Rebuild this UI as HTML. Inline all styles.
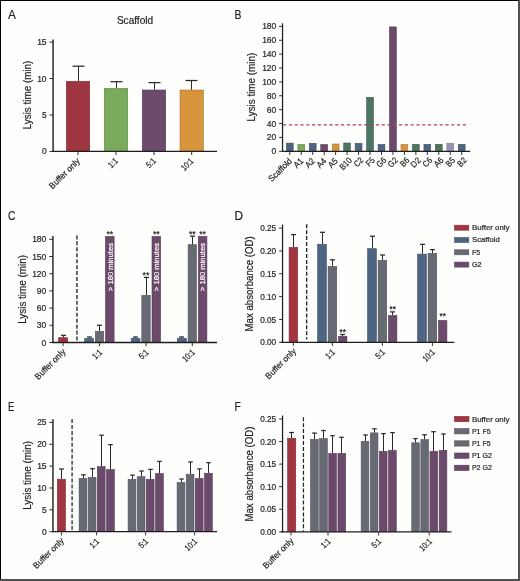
<!DOCTYPE html>
<html><head><meta charset="utf-8"><style>
html,body{margin:0;padding:0;background:#fff;}
#fig{position:relative;width:520px;height:581px;overflow:hidden;background:#fff;}
svg{position:absolute;left:0;top:0;font-family:"Liberation Sans", sans-serif;will-change:transform;}
</style></head><body>
<div id="fig">
<svg width="520" height="581" viewBox="0 0 520 581">
<rect x="0" y="0" width="520" height="581" fill="#fefefd"/>
<text x="8.00" y="18.60" font-size="12.8" text-anchor="start" fill="#1e1e1e" stroke="#1e1e1e" stroke-width="0.2" textLength="7.83" lengthAdjust="spacingAndGlyphs">A</text>
<text x="234.60" y="18.60" font-size="12.8" text-anchor="start" fill="#1e1e1e" stroke="#1e1e1e" stroke-width="0.2" textLength="6.94" lengthAdjust="spacingAndGlyphs">B</text>
<text x="8.00" y="220.00" font-size="12.8" text-anchor="start" fill="#1e1e1e" stroke="#1e1e1e" stroke-width="0.2" textLength="7.42" lengthAdjust="spacingAndGlyphs">C</text>
<text x="234.60" y="220.00" font-size="12.8" text-anchor="start" fill="#1e1e1e" stroke="#1e1e1e" stroke-width="0.2" textLength="8.52" lengthAdjust="spacingAndGlyphs">D</text>
<text x="8.00" y="411.20" font-size="12.8" text-anchor="start" fill="#1e1e1e" stroke="#1e1e1e" stroke-width="0.2" textLength="6.30" lengthAdjust="spacingAndGlyphs">E</text>
<text x="234.60" y="411.20" font-size="12.8" text-anchor="start" fill="#1e1e1e" stroke="#1e1e1e" stroke-width="0.2" textLength="6.23" lengthAdjust="spacingAndGlyphs">F</text>
<text x="135.00" y="23.80" font-size="10.6" text-anchor="middle" fill="#1e1e1e" stroke="#1e1e1e" stroke-width="0.2" textLength="36.20" lengthAdjust="spacingAndGlyphs">Scaffold</text>
<line x1="53.10" y1="39.50" x2="53.10" y2="152.05" stroke="#4a4a4a" stroke-width="1.75" />
<line x1="49.50" y1="151.45" x2="53.10" y2="151.45" stroke="#2e2e2e" stroke-width="1.0" />
<text x="46.60" y="154.49" font-size="9.2" text-anchor="end" fill="#1e1e1e" stroke="#1e1e1e" stroke-width="0.2" textLength="4.72" lengthAdjust="spacingAndGlyphs">0</text>
<line x1="49.50" y1="115.00" x2="53.10" y2="115.00" stroke="#2e2e2e" stroke-width="1.0" />
<text x="46.60" y="118.04" font-size="9.2" text-anchor="end" fill="#1e1e1e" stroke="#1e1e1e" stroke-width="0.2" textLength="4.72" lengthAdjust="spacingAndGlyphs">5</text>
<line x1="49.50" y1="78.55" x2="53.10" y2="78.55" stroke="#2e2e2e" stroke-width="1.0" />
<text x="46.60" y="81.59" font-size="9.2" text-anchor="end" fill="#1e1e1e" stroke="#1e1e1e" stroke-width="0.2" textLength="9.44" lengthAdjust="spacingAndGlyphs">10</text>
<line x1="49.50" y1="42.10" x2="53.10" y2="42.10" stroke="#2e2e2e" stroke-width="1.0" />
<text x="46.60" y="45.14" font-size="9.2" text-anchor="end" fill="#1e1e1e" stroke="#1e1e1e" stroke-width="0.2" textLength="9.44" lengthAdjust="spacingAndGlyphs">15</text>
<text x="31.00" y="95.00" font-size="10.6" text-anchor="middle" fill="#1e1e1e" stroke="#1e1e1e" stroke-width="0.2" transform="rotate(-90 31.00 95.00)" textLength="68.73" lengthAdjust="spacingAndGlyphs">Lysis time (min)</text>
<rect x="66.30" y="81.30" width="23.40" height="70.15" fill="#A03542" stroke="#802a34" stroke-width="0.6"/>
<line x1="78.50" y1="81.00" x2="78.50" y2="66.20" stroke="#2a2a2a" stroke-width="1.05" />
<line x1="72.50" y1="66.20" x2="84.50" y2="66.20" stroke="#2a2a2a" stroke-width="1.25" />
<line x1="78.00" y1="152.05" x2="78.00" y2="155.05" stroke="#2e2e2e" stroke-width="1.0" />
<text x="80.40" y="161.65" font-size="8.7" text-anchor="end" fill="#1e1e1e" stroke="#1e1e1e" stroke-width="0.2" transform="rotate(-45 80.40 161.65)" textLength="39.39" lengthAdjust="spacingAndGlyphs">Buffer only</text>
<rect x="104.30" y="88.30" width="23.40" height="63.15" fill="#7AAA5C" stroke="#618849" stroke-width="0.6"/>
<line x1="116.50" y1="88.00" x2="116.50" y2="81.70" stroke="#2a2a2a" stroke-width="1.05" />
<line x1="110.50" y1="81.70" x2="122.50" y2="81.70" stroke="#2a2a2a" stroke-width="1.25" />
<line x1="116.00" y1="152.05" x2="116.00" y2="155.05" stroke="#2e2e2e" stroke-width="1.0" />
<text x="118.40" y="161.65" font-size="8.7" text-anchor="end" fill="#1e1e1e" stroke="#1e1e1e" stroke-width="0.2" transform="rotate(-45 118.40 161.65)" textLength="9.65" lengthAdjust="spacingAndGlyphs">1:1</text>
<rect x="142.30" y="90.00" width="23.40" height="61.45" fill="#6C4A6C" stroke="#563b56" stroke-width="0.6"/>
<line x1="154.50" y1="89.70" x2="154.50" y2="82.60" stroke="#2a2a2a" stroke-width="1.05" />
<line x1="148.50" y1="82.60" x2="160.50" y2="82.60" stroke="#2a2a2a" stroke-width="1.25" />
<line x1="154.00" y1="152.05" x2="154.00" y2="155.05" stroke="#2e2e2e" stroke-width="1.0" />
<text x="156.40" y="161.65" font-size="8.7" text-anchor="end" fill="#1e1e1e" stroke="#1e1e1e" stroke-width="0.2" transform="rotate(-45 156.40 161.65)" textLength="9.65" lengthAdjust="spacingAndGlyphs">5:1</text>
<rect x="180.00" y="90.00" width="23.40" height="61.45" fill="#D6953D" stroke="#ab7730" stroke-width="0.6"/>
<line x1="191.50" y1="89.70" x2="191.50" y2="80.50" stroke="#2a2a2a" stroke-width="1.05" />
<line x1="185.50" y1="80.50" x2="197.50" y2="80.50" stroke="#2a2a2a" stroke-width="1.25" />
<line x1="191.70" y1="152.05" x2="191.70" y2="155.05" stroke="#2e2e2e" stroke-width="1.0" />
<text x="194.10" y="161.65" font-size="8.7" text-anchor="end" fill="#1e1e1e" stroke="#1e1e1e" stroke-width="0.2" transform="rotate(-45 194.10 161.65)" textLength="13.67" lengthAdjust="spacingAndGlyphs">10:1</text>
<line x1="282.55" y1="23.30" x2="282.55" y2="151.90" stroke="#1e1e1e" stroke-width="1.25" />
<line x1="279.15" y1="151.30" x2="282.55" y2="151.30" stroke="#2e2e2e" stroke-width="1.0" />
<text x="276.30" y="154.34" font-size="9.2" text-anchor="end" fill="#1e1e1e" stroke="#1e1e1e" stroke-width="0.2" textLength="4.72" lengthAdjust="spacingAndGlyphs">0</text>
<line x1="279.15" y1="137.42" x2="282.55" y2="137.42" stroke="#2e2e2e" stroke-width="1.0" />
<text x="276.30" y="140.46" font-size="9.2" text-anchor="end" fill="#1e1e1e" stroke="#1e1e1e" stroke-width="0.2" textLength="9.44" lengthAdjust="spacingAndGlyphs">20</text>
<line x1="279.15" y1="123.54" x2="282.55" y2="123.54" stroke="#2e2e2e" stroke-width="1.0" />
<text x="276.30" y="126.58" font-size="9.2" text-anchor="end" fill="#1e1e1e" stroke="#1e1e1e" stroke-width="0.2" textLength="9.44" lengthAdjust="spacingAndGlyphs">40</text>
<line x1="279.15" y1="109.66" x2="282.55" y2="109.66" stroke="#2e2e2e" stroke-width="1.0" />
<text x="276.30" y="112.70" font-size="9.2" text-anchor="end" fill="#1e1e1e" stroke="#1e1e1e" stroke-width="0.2" textLength="9.44" lengthAdjust="spacingAndGlyphs">60</text>
<line x1="279.15" y1="95.78" x2="282.55" y2="95.78" stroke="#2e2e2e" stroke-width="1.0" />
<text x="276.30" y="98.82" font-size="9.2" text-anchor="end" fill="#1e1e1e" stroke="#1e1e1e" stroke-width="0.2" textLength="9.44" lengthAdjust="spacingAndGlyphs">80</text>
<line x1="279.15" y1="81.90" x2="282.55" y2="81.90" stroke="#2e2e2e" stroke-width="1.0" />
<text x="276.30" y="84.94" font-size="9.2" text-anchor="end" fill="#1e1e1e" stroke="#1e1e1e" stroke-width="0.2" textLength="14.16" lengthAdjust="spacingAndGlyphs">100</text>
<line x1="279.15" y1="68.02" x2="282.55" y2="68.02" stroke="#2e2e2e" stroke-width="1.0" />
<text x="276.30" y="71.06" font-size="9.2" text-anchor="end" fill="#1e1e1e" stroke="#1e1e1e" stroke-width="0.2" textLength="14.16" lengthAdjust="spacingAndGlyphs">120</text>
<line x1="279.15" y1="54.14" x2="282.55" y2="54.14" stroke="#2e2e2e" stroke-width="1.0" />
<text x="276.30" y="57.18" font-size="9.2" text-anchor="end" fill="#1e1e1e" stroke="#1e1e1e" stroke-width="0.2" textLength="14.16" lengthAdjust="spacingAndGlyphs">140</text>
<line x1="279.15" y1="40.26" x2="282.55" y2="40.26" stroke="#2e2e2e" stroke-width="1.0" />
<text x="276.30" y="43.30" font-size="9.2" text-anchor="end" fill="#1e1e1e" stroke="#1e1e1e" stroke-width="0.2" textLength="14.16" lengthAdjust="spacingAndGlyphs">160</text>
<line x1="279.15" y1="26.38" x2="282.55" y2="26.38" stroke="#2e2e2e" stroke-width="1.0" />
<text x="276.30" y="29.42" font-size="9.2" text-anchor="end" fill="#1e1e1e" stroke="#1e1e1e" stroke-width="0.2" textLength="14.16" lengthAdjust="spacingAndGlyphs">180</text>
<text x="255.20" y="87.05" font-size="10.6" text-anchor="middle" fill="#1e1e1e" stroke="#1e1e1e" stroke-width="0.2" transform="rotate(-90 255.20 87.05)" textLength="68.73" lengthAdjust="spacingAndGlyphs">Lysis time (min)</text>
<rect x="286.40" y="143.10" width="6.80" height="8.20" fill="#4D6482" stroke="#3d5068" stroke-width="0.6"/>
<line x1="289.80" y1="151.90" x2="289.80" y2="154.90" stroke="#2e2e2e" stroke-width="1.0" />
<text x="292.50" y="161.70" font-size="8.7" text-anchor="end" fill="#1e1e1e" stroke="#1e1e1e" stroke-width="0.2" transform="rotate(-45 292.50 161.70)" textLength="29.20" lengthAdjust="spacingAndGlyphs">Scaffold</text>
<rect x="297.86" y="144.50" width="6.80" height="6.80" fill="#7AAA5C" stroke="#618849" stroke-width="0.6"/>
<line x1="301.26" y1="151.90" x2="301.26" y2="154.90" stroke="#2e2e2e" stroke-width="1.0" />
<text x="303.96" y="161.70" font-size="8.7" text-anchor="end" fill="#1e1e1e" stroke="#1e1e1e" stroke-width="0.2" transform="rotate(-45 303.96 161.70)" textLength="9.79" lengthAdjust="spacingAndGlyphs">A1</text>
<rect x="309.32" y="143.30" width="6.80" height="8.00" fill="#4D6482" stroke="#3d5068" stroke-width="0.6"/>
<line x1="312.72" y1="151.90" x2="312.72" y2="154.90" stroke="#2e2e2e" stroke-width="1.0" />
<text x="315.42" y="161.70" font-size="8.7" text-anchor="end" fill="#1e1e1e" stroke="#1e1e1e" stroke-width="0.2" transform="rotate(-45 315.42 161.70)" textLength="9.79" lengthAdjust="spacingAndGlyphs">A2</text>
<rect x="320.78" y="144.50" width="6.80" height="6.80" fill="#6C4A6C" stroke="#563b56" stroke-width="0.6"/>
<line x1="324.18" y1="151.90" x2="324.18" y2="154.90" stroke="#2e2e2e" stroke-width="1.0" />
<text x="326.88" y="161.70" font-size="8.7" text-anchor="end" fill="#1e1e1e" stroke="#1e1e1e" stroke-width="0.2" transform="rotate(-45 326.88 161.70)" textLength="9.79" lengthAdjust="spacingAndGlyphs">A4</text>
<rect x="332.24" y="144.00" width="6.80" height="7.30" fill="#D6953D" stroke="#ab7730" stroke-width="0.6"/>
<line x1="335.64" y1="151.90" x2="335.64" y2="154.90" stroke="#2e2e2e" stroke-width="1.0" />
<text x="338.34" y="161.70" font-size="8.7" text-anchor="end" fill="#1e1e1e" stroke="#1e1e1e" stroke-width="0.2" transform="rotate(-45 338.34 161.70)" textLength="9.79" lengthAdjust="spacingAndGlyphs">A5</text>
<rect x="343.70" y="143.00" width="6.80" height="8.30" fill="#4D7562" stroke="#3d5d4e" stroke-width="0.6"/>
<line x1="347.10" y1="151.90" x2="347.10" y2="154.90" stroke="#2e2e2e" stroke-width="1.0" />
<text x="352.60" y="160.90" font-size="8.7" text-anchor="end" fill="#1e1e1e" stroke="#1e1e1e" stroke-width="0.2" transform="rotate(-45 352.60 160.90)" textLength="13.64" lengthAdjust="spacingAndGlyphs">B10</text>
<rect x="355.16" y="143.30" width="6.80" height="8.00" fill="#4D6482" stroke="#3d5068" stroke-width="0.6"/>
<line x1="358.56" y1="151.90" x2="358.56" y2="154.90" stroke="#2e2e2e" stroke-width="1.0" />
<text x="364.06" y="160.90" font-size="8.7" text-anchor="end" fill="#1e1e1e" stroke="#1e1e1e" stroke-width="0.2" transform="rotate(-45 364.06 160.90)" textLength="9.51" lengthAdjust="spacingAndGlyphs">C2</text>
<rect x="366.62" y="97.40" width="6.80" height="53.90" fill="#4D7562" stroke="#3d5d4e" stroke-width="0.6"/>
<line x1="370.02" y1="151.90" x2="370.02" y2="154.90" stroke="#2e2e2e" stroke-width="1.0" />
<text x="375.52" y="160.90" font-size="8.7" text-anchor="end" fill="#1e1e1e" stroke="#1e1e1e" stroke-width="0.2" transform="rotate(-45 375.52 160.90)" textLength="8.70" lengthAdjust="spacingAndGlyphs">F5</text>
<rect x="378.08" y="144.50" width="6.80" height="6.80" fill="#4D6482" stroke="#3d5068" stroke-width="0.6"/>
<line x1="381.48" y1="151.90" x2="381.48" y2="154.90" stroke="#2e2e2e" stroke-width="1.0" />
<text x="386.98" y="160.90" font-size="8.7" text-anchor="end" fill="#1e1e1e" stroke="#1e1e1e" stroke-width="0.2" transform="rotate(-45 386.98 160.90)" textLength="10.08" lengthAdjust="spacingAndGlyphs">G6</text>
<rect x="389.54" y="26.90" width="6.80" height="124.40" fill="#6C4A6C" stroke="#563b56" stroke-width="0.6"/>
<line x1="392.94" y1="151.90" x2="392.94" y2="154.90" stroke="#2e2e2e" stroke-width="1.0" />
<text x="398.44" y="160.90" font-size="8.7" text-anchor="end" fill="#1e1e1e" stroke="#1e1e1e" stroke-width="0.2" transform="rotate(-45 398.44 160.90)" textLength="10.08" lengthAdjust="spacingAndGlyphs">G2</text>
<rect x="401.00" y="144.50" width="6.80" height="6.80" fill="#D6953D" stroke="#ab7730" stroke-width="0.6"/>
<line x1="404.40" y1="151.90" x2="404.40" y2="154.90" stroke="#2e2e2e" stroke-width="1.0" />
<text x="409.90" y="160.90" font-size="8.7" text-anchor="end" fill="#1e1e1e" stroke="#1e1e1e" stroke-width="0.2" transform="rotate(-45 409.90 160.90)" textLength="9.18" lengthAdjust="spacingAndGlyphs">B6</text>
<rect x="412.46" y="144.30" width="6.80" height="7.00" fill="#4D7562" stroke="#3d5d4e" stroke-width="0.6"/>
<line x1="415.86" y1="151.90" x2="415.86" y2="154.90" stroke="#2e2e2e" stroke-width="1.0" />
<text x="421.36" y="160.90" font-size="8.7" text-anchor="end" fill="#1e1e1e" stroke="#1e1e1e" stroke-width="0.2" transform="rotate(-45 421.36 160.90)" textLength="10.26" lengthAdjust="spacingAndGlyphs">D2</text>
<rect x="423.92" y="144.30" width="6.80" height="7.00" fill="#4D6482" stroke="#3d5068" stroke-width="0.6"/>
<line x1="427.32" y1="151.90" x2="427.32" y2="154.90" stroke="#2e2e2e" stroke-width="1.0" />
<text x="432.82" y="160.90" font-size="8.7" text-anchor="end" fill="#1e1e1e" stroke="#1e1e1e" stroke-width="0.2" transform="rotate(-45 432.82 160.90)" textLength="9.51" lengthAdjust="spacingAndGlyphs">C6</text>
<rect x="435.38" y="144.30" width="6.80" height="7.00" fill="#4D7562" stroke="#3d5d4e" stroke-width="0.6"/>
<line x1="438.78" y1="151.90" x2="438.78" y2="154.90" stroke="#2e2e2e" stroke-width="1.0" />
<text x="444.28" y="160.90" font-size="8.7" text-anchor="end" fill="#1e1e1e" stroke="#1e1e1e" stroke-width="0.2" transform="rotate(-45 444.28 160.90)" textLength="9.79" lengthAdjust="spacingAndGlyphs">A6</text>
<rect x="446.84" y="143.20" width="6.80" height="8.10" fill="#9B93B6" stroke="#7c7591" stroke-width="0.6"/>
<line x1="450.24" y1="151.90" x2="450.24" y2="154.90" stroke="#2e2e2e" stroke-width="1.0" />
<text x="455.74" y="160.90" font-size="8.7" text-anchor="end" fill="#1e1e1e" stroke="#1e1e1e" stroke-width="0.2" transform="rotate(-45 455.74 160.90)" textLength="9.18" lengthAdjust="spacingAndGlyphs">B5</text>
<rect x="458.30" y="144.30" width="6.80" height="7.00" fill="#4D6482" stroke="#3d5068" stroke-width="0.6"/>
<line x1="461.70" y1="151.90" x2="461.70" y2="154.90" stroke="#2e2e2e" stroke-width="1.0" />
<text x="467.20" y="160.90" font-size="8.7" text-anchor="end" fill="#1e1e1e" stroke="#1e1e1e" stroke-width="0.2" transform="rotate(-45 467.20 160.90)" textLength="9.18" lengthAdjust="spacingAndGlyphs">B2</text>
<line x1="283.00" y1="124.90" x2="468.40" y2="124.90" stroke="#B23F55" stroke-width="1.4" stroke-dasharray="3.2 2.6"/>
<line x1="52.90" y1="236.00" x2="52.90" y2="343.10" stroke="#4a4a4a" stroke-width="1.75" />
<line x1="49.30" y1="342.50" x2="52.90" y2="342.50" stroke="#2e2e2e" stroke-width="1.0" />
<text x="46.30" y="345.54" font-size="9.2" text-anchor="end" fill="#1e1e1e" stroke="#1e1e1e" stroke-width="0.2" textLength="4.72" lengthAdjust="spacingAndGlyphs">0</text>
<line x1="49.30" y1="325.30" x2="52.90" y2="325.30" stroke="#2e2e2e" stroke-width="1.0" />
<text x="46.30" y="328.34" font-size="9.2" text-anchor="end" fill="#1e1e1e" stroke="#1e1e1e" stroke-width="0.2" textLength="9.44" lengthAdjust="spacingAndGlyphs">30</text>
<line x1="49.30" y1="308.10" x2="52.90" y2="308.10" stroke="#2e2e2e" stroke-width="1.0" />
<text x="46.30" y="311.14" font-size="9.2" text-anchor="end" fill="#1e1e1e" stroke="#1e1e1e" stroke-width="0.2" textLength="9.44" lengthAdjust="spacingAndGlyphs">60</text>
<line x1="49.30" y1="290.90" x2="52.90" y2="290.90" stroke="#2e2e2e" stroke-width="1.0" />
<text x="46.30" y="293.94" font-size="9.2" text-anchor="end" fill="#1e1e1e" stroke="#1e1e1e" stroke-width="0.2" textLength="9.44" lengthAdjust="spacingAndGlyphs">90</text>
<line x1="49.30" y1="273.70" x2="52.90" y2="273.70" stroke="#2e2e2e" stroke-width="1.0" />
<text x="46.30" y="276.74" font-size="9.2" text-anchor="end" fill="#1e1e1e" stroke="#1e1e1e" stroke-width="0.2" textLength="14.16" lengthAdjust="spacingAndGlyphs">120</text>
<line x1="49.30" y1="256.50" x2="52.90" y2="256.50" stroke="#2e2e2e" stroke-width="1.0" />
<text x="46.30" y="259.54" font-size="9.2" text-anchor="end" fill="#1e1e1e" stroke="#1e1e1e" stroke-width="0.2" textLength="14.16" lengthAdjust="spacingAndGlyphs">150</text>
<line x1="49.30" y1="239.30" x2="52.90" y2="239.30" stroke="#2e2e2e" stroke-width="1.0" />
<text x="46.30" y="242.34" font-size="9.2" text-anchor="end" fill="#1e1e1e" stroke="#1e1e1e" stroke-width="0.2" textLength="14.16" lengthAdjust="spacingAndGlyphs">180</text>
<text x="26.00" y="289.40" font-size="10.6" text-anchor="middle" fill="#1e1e1e" stroke="#1e1e1e" stroke-width="0.2" transform="rotate(-90 26.00 289.40)" textLength="68.73" lengthAdjust="spacingAndGlyphs">Lysis time (min)</text>
<line x1="76.95" y1="235.40" x2="76.95" y2="342.50" stroke="#505050" stroke-width="1.7" stroke-dasharray="4 1.95"/>
<rect x="58.60" y="337.70" width="9.00" height="4.80" fill="#A03542" stroke="#802a34" stroke-width="0.6"/>
<line x1="63.50" y1="337.40" x2="63.50" y2="335.30" stroke="#2a2a2a" stroke-width="1.05" />
<line x1="61.00" y1="335.30" x2="66.00" y2="335.30" stroke="#2a2a2a" stroke-width="1.25" />
<line x1="63.10" y1="343.10" x2="63.10" y2="346.10" stroke="#2e2e2e" stroke-width="1.0" />
<text x="66.10" y="352.40" font-size="8.7" text-anchor="end" fill="#1e1e1e" stroke="#1e1e1e" stroke-width="0.2" transform="rotate(-45 66.10 352.40)" textLength="39.39" lengthAdjust="spacingAndGlyphs">Buffer only</text>
<rect x="84.70" y="338.30" width="8.80" height="4.20" fill="#4D6482" stroke="#3d5068" stroke-width="0.6"/>
<line x1="89.50" y1="338.00" x2="89.50" y2="337.00" stroke="#2a2a2a" stroke-width="1.05" />
<line x1="87.00" y1="337.00" x2="92.00" y2="337.00" stroke="#2a2a2a" stroke-width="1.25" />
<rect x="95.30" y="331.30" width="8.40" height="11.20" fill="#676A73" stroke="#52545c" stroke-width="0.6"/>
<line x1="99.50" y1="331.00" x2="99.50" y2="325.30" stroke="#2a2a2a" stroke-width="1.05" />
<line x1="97.00" y1="325.30" x2="102.00" y2="325.30" stroke="#2a2a2a" stroke-width="1.25" />
<rect x="105.50" y="236.40" width="8.60" height="106.10" fill="#6C4A6C" stroke="#563b56" stroke-width="0.6"/>
<line x1="99.50" y1="343.10" x2="99.50" y2="346.10" stroke="#2e2e2e" stroke-width="1.0" />
<text x="102.70" y="352.90" font-size="8.7" text-anchor="end" fill="#1e1e1e" stroke="#1e1e1e" stroke-width="0.2" transform="rotate(-45 102.70 352.90)" textLength="9.65" lengthAdjust="spacingAndGlyphs">1:1</text>
<text x="112.70" y="291.20" font-size="8.1" text-anchor="start" fill="#ffffff" stroke="#ffffff" stroke-width="0.2" transform="rotate(-90 112.70 291.20)" textLength="48.28" lengthAdjust="spacingAndGlyphs">&gt; 180 minutes</text>
<text x="109.80" y="236.80" font-size="9.6" text-anchor="middle" fill="#1e1e1e" stroke="#1e1e1e" stroke-width="0.2" textLength="6.80" lengthAdjust="spacingAndGlyphs">**</text>
<rect x="131.20" y="338.30" width="8.80" height="4.20" fill="#4D6482" stroke="#3d5068" stroke-width="0.6"/>
<line x1="135.50" y1="338.00" x2="135.50" y2="337.00" stroke="#2a2a2a" stroke-width="1.05" />
<line x1="133.00" y1="337.00" x2="138.00" y2="337.00" stroke="#2a2a2a" stroke-width="1.25" />
<rect x="141.80" y="295.30" width="8.40" height="47.20" fill="#676A73" stroke="#52545c" stroke-width="0.6"/>
<line x1="146.50" y1="295.00" x2="146.50" y2="277.40" stroke="#2a2a2a" stroke-width="1.05" />
<line x1="144.00" y1="277.40" x2="149.00" y2="277.40" stroke="#2a2a2a" stroke-width="1.25" />
<rect x="152.00" y="236.40" width="8.60" height="106.10" fill="#6C4A6C" stroke="#563b56" stroke-width="0.6"/>
<line x1="146.00" y1="343.10" x2="146.00" y2="346.10" stroke="#2e2e2e" stroke-width="1.0" />
<text x="149.20" y="352.90" font-size="8.7" text-anchor="end" fill="#1e1e1e" stroke="#1e1e1e" stroke-width="0.2" transform="rotate(-45 149.20 352.90)" textLength="9.65" lengthAdjust="spacingAndGlyphs">5:1</text>
<text x="159.20" y="291.20" font-size="8.1" text-anchor="start" fill="#ffffff" stroke="#ffffff" stroke-width="0.2" transform="rotate(-90 159.20 291.20)" textLength="48.28" lengthAdjust="spacingAndGlyphs">&gt; 180 minutes</text>
<text x="146.00" y="277.90" font-size="9.6" text-anchor="middle" fill="#1e1e1e" stroke="#1e1e1e" stroke-width="0.2" textLength="6.80" lengthAdjust="spacingAndGlyphs">**</text>
<text x="156.30" y="236.80" font-size="9.6" text-anchor="middle" fill="#1e1e1e" stroke="#1e1e1e" stroke-width="0.2" textLength="6.80" lengthAdjust="spacingAndGlyphs">**</text>
<rect x="177.50" y="338.30" width="8.80" height="4.20" fill="#4D6482" stroke="#3d5068" stroke-width="0.6"/>
<line x1="181.50" y1="338.00" x2="181.50" y2="337.00" stroke="#2a2a2a" stroke-width="1.05" />
<line x1="179.00" y1="337.00" x2="184.00" y2="337.00" stroke="#2a2a2a" stroke-width="1.25" />
<rect x="188.10" y="244.70" width="8.40" height="97.80" fill="#676A73" stroke="#52545c" stroke-width="0.6"/>
<line x1="192.50" y1="244.40" x2="192.50" y2="236.20" stroke="#2a2a2a" stroke-width="1.05" />
<line x1="190.00" y1="236.20" x2="195.00" y2="236.20" stroke="#2a2a2a" stroke-width="1.25" />
<rect x="198.30" y="236.40" width="8.60" height="106.10" fill="#6C4A6C" stroke="#563b56" stroke-width="0.6"/>
<line x1="192.30" y1="343.10" x2="192.30" y2="346.10" stroke="#2e2e2e" stroke-width="1.0" />
<text x="195.50" y="352.90" font-size="8.7" text-anchor="end" fill="#1e1e1e" stroke="#1e1e1e" stroke-width="0.2" transform="rotate(-45 195.50 352.90)" textLength="13.67" lengthAdjust="spacingAndGlyphs">10:1</text>
<text x="205.50" y="291.20" font-size="8.1" text-anchor="start" fill="#ffffff" stroke="#ffffff" stroke-width="0.2" transform="rotate(-90 205.50 291.20)" textLength="48.28" lengthAdjust="spacingAndGlyphs">&gt; 180 minutes</text>
<text x="192.30" y="236.70" font-size="9.6" text-anchor="middle" fill="#1e1e1e" stroke="#1e1e1e" stroke-width="0.2" textLength="6.80" lengthAdjust="spacingAndGlyphs">**</text>
<text x="202.60" y="236.80" font-size="9.6" text-anchor="middle" fill="#1e1e1e" stroke="#1e1e1e" stroke-width="0.2" textLength="6.80" lengthAdjust="spacingAndGlyphs">**</text>
<line x1="282.55" y1="224.60" x2="282.55" y2="342.90" stroke="#1e1e1e" stroke-width="1.25" />
<line x1="279.15" y1="342.30" x2="282.55" y2="342.30" stroke="#2e2e2e" stroke-width="1.0" />
<text x="276.20" y="345.34" font-size="9.2" text-anchor="end" fill="#1e1e1e" stroke="#1e1e1e" stroke-width="0.2" textLength="16.06" lengthAdjust="spacingAndGlyphs">0.00</text>
<line x1="279.15" y1="319.46" x2="282.55" y2="319.46" stroke="#2e2e2e" stroke-width="1.0" />
<text x="276.20" y="322.50" font-size="9.2" text-anchor="end" fill="#1e1e1e" stroke="#1e1e1e" stroke-width="0.2" textLength="16.06" lengthAdjust="spacingAndGlyphs">0.05</text>
<line x1="279.15" y1="296.62" x2="282.55" y2="296.62" stroke="#2e2e2e" stroke-width="1.0" />
<text x="276.20" y="299.66" font-size="9.2" text-anchor="end" fill="#1e1e1e" stroke="#1e1e1e" stroke-width="0.2" textLength="16.06" lengthAdjust="spacingAndGlyphs">0.10</text>
<line x1="279.15" y1="273.78" x2="282.55" y2="273.78" stroke="#2e2e2e" stroke-width="1.0" />
<text x="276.20" y="276.82" font-size="9.2" text-anchor="end" fill="#1e1e1e" stroke="#1e1e1e" stroke-width="0.2" textLength="16.06" lengthAdjust="spacingAndGlyphs">0.15</text>
<line x1="279.15" y1="250.94" x2="282.55" y2="250.94" stroke="#2e2e2e" stroke-width="1.0" />
<text x="276.20" y="253.98" font-size="9.2" text-anchor="end" fill="#1e1e1e" stroke="#1e1e1e" stroke-width="0.2" textLength="16.06" lengthAdjust="spacingAndGlyphs">0.20</text>
<line x1="279.15" y1="228.10" x2="282.55" y2="228.10" stroke="#2e2e2e" stroke-width="1.0" />
<text x="276.20" y="231.14" font-size="9.2" text-anchor="end" fill="#1e1e1e" stroke="#1e1e1e" stroke-width="0.2" textLength="16.06" lengthAdjust="spacingAndGlyphs">0.25</text>
<text x="253.00" y="283.90" font-size="10.6" text-anchor="middle" fill="#1e1e1e" stroke="#1e1e1e" stroke-width="0.2" transform="rotate(-90 253.00 283.90)" textLength="95.12" lengthAdjust="spacingAndGlyphs">Max absorbance (OD)</text>
<line x1="306.65" y1="224.20" x2="306.65" y2="339.50" stroke="#2a2a2a" stroke-width="1.4" stroke-dasharray="4 1.95"/>
<rect x="289.10" y="247.40" width="8.60" height="94.90" fill="#A03542" stroke="#802a34" stroke-width="0.6"/>
<line x1="293.50" y1="247.10" x2="293.50" y2="234.60" stroke="#2a2a2a" stroke-width="1.05" />
<line x1="291.00" y1="234.60" x2="296.00" y2="234.60" stroke="#2a2a2a" stroke-width="1.25" />
<line x1="293.40" y1="342.90" x2="293.40" y2="345.90" stroke="#2e2e2e" stroke-width="1.0" />
<text x="296.60" y="351.80" font-size="8.7" text-anchor="end" fill="#1e1e1e" stroke="#1e1e1e" stroke-width="0.2" transform="rotate(-45 296.60 351.80)" textLength="39.39" lengthAdjust="spacingAndGlyphs">Buffer only</text>
<rect x="317.60" y="244.20" width="8.80" height="98.10" fill="#4D6482" stroke="#3d5068" stroke-width="0.6"/>
<line x1="322.50" y1="243.90" x2="322.50" y2="232.30" stroke="#2a2a2a" stroke-width="1.05" />
<line x1="320.00" y1="232.30" x2="325.00" y2="232.30" stroke="#2a2a2a" stroke-width="1.25" />
<rect x="328.10" y="266.40" width="8.60" height="75.90" fill="#676A73" stroke="#52545c" stroke-width="0.6"/>
<line x1="332.50" y1="266.10" x2="332.50" y2="259.80" stroke="#2a2a2a" stroke-width="1.05" />
<line x1="330.00" y1="259.80" x2="335.00" y2="259.80" stroke="#2a2a2a" stroke-width="1.25" />
<rect x="338.50" y="336.30" width="8.40" height="6.00" fill="#6C4A6C" stroke="#563b56" stroke-width="0.6"/>
<line x1="342.50" y1="336.00" x2="342.50" y2="334.50" stroke="#2a2a2a" stroke-width="1.05" />
<line x1="340.00" y1="334.50" x2="345.00" y2="334.50" stroke="#2a2a2a" stroke-width="1.25" />
<line x1="332.40" y1="342.90" x2="332.40" y2="345.90" stroke="#2e2e2e" stroke-width="1.0" />
<text x="335.60" y="352.70" font-size="8.7" text-anchor="end" fill="#1e1e1e" stroke="#1e1e1e" stroke-width="0.2" transform="rotate(-45 335.60 352.70)" textLength="9.65" lengthAdjust="spacingAndGlyphs">1:1</text>
<text x="342.70" y="334.50" font-size="9.4" text-anchor="middle" fill="#1e1e1e" stroke="#1e1e1e" stroke-width="0.2" textLength="6.50" lengthAdjust="spacingAndGlyphs">**</text>
<rect x="367.60" y="248.70" width="8.80" height="93.60" fill="#4D6482" stroke="#3d5068" stroke-width="0.6"/>
<line x1="372.50" y1="248.40" x2="372.50" y2="236.20" stroke="#2a2a2a" stroke-width="1.05" />
<line x1="370.00" y1="236.20" x2="375.00" y2="236.20" stroke="#2a2a2a" stroke-width="1.25" />
<rect x="378.10" y="260.30" width="8.60" height="82.00" fill="#676A73" stroke="#52545c" stroke-width="0.6"/>
<line x1="382.50" y1="260.00" x2="382.50" y2="255.00" stroke="#2a2a2a" stroke-width="1.05" />
<line x1="380.00" y1="255.00" x2="385.00" y2="255.00" stroke="#2a2a2a" stroke-width="1.25" />
<rect x="388.50" y="315.60" width="8.40" height="26.70" fill="#6C4A6C" stroke="#563b56" stroke-width="0.6"/>
<line x1="392.50" y1="315.30" x2="392.50" y2="311.90" stroke="#2a2a2a" stroke-width="1.05" />
<line x1="390.00" y1="311.90" x2="395.00" y2="311.90" stroke="#2a2a2a" stroke-width="1.25" />
<line x1="382.40" y1="342.90" x2="382.40" y2="345.90" stroke="#2e2e2e" stroke-width="1.0" />
<text x="385.60" y="352.70" font-size="8.7" text-anchor="end" fill="#1e1e1e" stroke="#1e1e1e" stroke-width="0.2" transform="rotate(-45 385.60 352.70)" textLength="9.65" lengthAdjust="spacingAndGlyphs">5:1</text>
<text x="392.70" y="311.90" font-size="9.4" text-anchor="middle" fill="#1e1e1e" stroke="#1e1e1e" stroke-width="0.2" textLength="6.50" lengthAdjust="spacingAndGlyphs">**</text>
<rect x="417.60" y="254.10" width="8.80" height="88.20" fill="#4D6482" stroke="#3d5068" stroke-width="0.6"/>
<line x1="422.50" y1="253.80" x2="422.50" y2="244.30" stroke="#2a2a2a" stroke-width="1.05" />
<line x1="420.00" y1="244.30" x2="425.00" y2="244.30" stroke="#2a2a2a" stroke-width="1.25" />
<rect x="428.10" y="253.30" width="8.60" height="89.00" fill="#676A73" stroke="#52545c" stroke-width="0.6"/>
<line x1="432.50" y1="253.00" x2="432.50" y2="249.60" stroke="#2a2a2a" stroke-width="1.05" />
<line x1="430.00" y1="249.60" x2="435.00" y2="249.60" stroke="#2a2a2a" stroke-width="1.25" />
<rect x="438.50" y="320.50" width="8.40" height="21.80" fill="#6C4A6C" stroke="#563b56" stroke-width="0.6"/>
<line x1="432.40" y1="342.90" x2="432.40" y2="345.90" stroke="#2e2e2e" stroke-width="1.0" />
<text x="435.60" y="352.70" font-size="8.7" text-anchor="end" fill="#1e1e1e" stroke="#1e1e1e" stroke-width="0.2" transform="rotate(-45 435.60 352.70)" textLength="13.67" lengthAdjust="spacingAndGlyphs">10:1</text>
<text x="442.70" y="319.40" font-size="9.4" text-anchor="middle" fill="#1e1e1e" stroke="#1e1e1e" stroke-width="0.2" textLength="6.50" lengthAdjust="spacingAndGlyphs">**</text>
<rect x="454.60" y="225.20" width="14.20" height="5.00" fill="#A03542" stroke="#802a34" stroke-width="0.6"/>
<text x="472.00" y="230.10" font-size="8.0" text-anchor="start" fill="#1e1e1e" stroke="#1e1e1e" stroke-width="0.2" textLength="37.58" lengthAdjust="spacingAndGlyphs">Buffer only</text>
<rect x="454.60" y="237.50" width="14.20" height="5.00" fill="#4D6482" stroke="#3d5068" stroke-width="0.6"/>
<text x="472.00" y="242.40" font-size="8.0" text-anchor="start" fill="#1e1e1e" stroke="#1e1e1e" stroke-width="0.2" textLength="27.85" lengthAdjust="spacingAndGlyphs">Scaffold</text>
<rect x="454.60" y="249.80" width="14.20" height="5.00" fill="#676A73" stroke="#52545c" stroke-width="0.6"/>
<text x="472.00" y="254.70" font-size="8.0" text-anchor="start" fill="#1e1e1e" stroke="#1e1e1e" stroke-width="0.2" textLength="8.30" lengthAdjust="spacingAndGlyphs">F5</text>
<rect x="454.60" y="262.10" width="14.20" height="5.00" fill="#6C4A6C" stroke="#563b56" stroke-width="0.6"/>
<text x="472.00" y="267.00" font-size="8.0" text-anchor="start" fill="#1e1e1e" stroke="#1e1e1e" stroke-width="0.2" textLength="9.62" lengthAdjust="spacingAndGlyphs">G2</text>
<line x1="52.95" y1="419.20" x2="52.95" y2="532.30" stroke="#4a4a4a" stroke-width="1.75" />
<line x1="49.35" y1="531.70" x2="52.95" y2="531.70" stroke="#2e2e2e" stroke-width="1.0" />
<text x="46.60" y="534.74" font-size="9.2" text-anchor="end" fill="#1e1e1e" stroke="#1e1e1e" stroke-width="0.2" textLength="4.72" lengthAdjust="spacingAndGlyphs">0</text>
<line x1="49.35" y1="509.84" x2="52.95" y2="509.84" stroke="#2e2e2e" stroke-width="1.0" />
<text x="46.60" y="512.88" font-size="9.2" text-anchor="end" fill="#1e1e1e" stroke="#1e1e1e" stroke-width="0.2" textLength="4.72" lengthAdjust="spacingAndGlyphs">5</text>
<line x1="49.35" y1="487.98" x2="52.95" y2="487.98" stroke="#2e2e2e" stroke-width="1.0" />
<text x="46.60" y="491.02" font-size="9.2" text-anchor="end" fill="#1e1e1e" stroke="#1e1e1e" stroke-width="0.2" textLength="9.44" lengthAdjust="spacingAndGlyphs">10</text>
<line x1="49.35" y1="466.12" x2="52.95" y2="466.12" stroke="#2e2e2e" stroke-width="1.0" />
<text x="46.60" y="469.16" font-size="9.2" text-anchor="end" fill="#1e1e1e" stroke="#1e1e1e" stroke-width="0.2" textLength="9.44" lengthAdjust="spacingAndGlyphs">15</text>
<line x1="49.35" y1="444.26" x2="52.95" y2="444.26" stroke="#2e2e2e" stroke-width="1.0" />
<text x="46.60" y="447.30" font-size="9.2" text-anchor="end" fill="#1e1e1e" stroke="#1e1e1e" stroke-width="0.2" textLength="9.44" lengthAdjust="spacingAndGlyphs">20</text>
<line x1="49.35" y1="422.40" x2="52.95" y2="422.40" stroke="#2e2e2e" stroke-width="1.0" />
<text x="46.60" y="425.44" font-size="9.2" text-anchor="end" fill="#1e1e1e" stroke="#1e1e1e" stroke-width="0.2" textLength="9.44" lengthAdjust="spacingAndGlyphs">25</text>
<text x="31.00" y="475.40" font-size="10.6" text-anchor="middle" fill="#1e1e1e" stroke="#1e1e1e" stroke-width="0.2" transform="rotate(-90 31.00 475.40)" textLength="68.73" lengthAdjust="spacingAndGlyphs">Lysis time (min)</text>
<line x1="72.10" y1="419.00" x2="72.10" y2="531.70" stroke="#505050" stroke-width="1.6" stroke-dasharray="4 1.95"/>
<rect x="57.35" y="479.20" width="8.10" height="52.50" fill="#A03542" stroke="#802a34" stroke-width="0.6"/>
<line x1="61.50" y1="478.90" x2="61.50" y2="469.00" stroke="#2a2a2a" stroke-width="1.05" />
<line x1="59.00" y1="469.00" x2="64.00" y2="469.00" stroke="#2a2a2a" stroke-width="1.25" />
<line x1="61.40" y1="532.30" x2="61.40" y2="535.30" stroke="#2e2e2e" stroke-width="1.0" />
<text x="64.40" y="541.40" font-size="8.7" text-anchor="end" fill="#1e1e1e" stroke="#1e1e1e" stroke-width="0.2" transform="rotate(-45 64.40 541.40)" textLength="39.39" lengthAdjust="spacingAndGlyphs">Buffer only</text>
<rect x="79.10" y="478.30" width="7.80" height="53.40" fill="#676A73" stroke="#52545c" stroke-width="0.6"/>
<line x1="83.50" y1="478.00" x2="83.50" y2="474.80" stroke="#2a2a2a" stroke-width="1.05" />
<line x1="81.20" y1="474.80" x2="85.80" y2="474.80" stroke="#2a2a2a" stroke-width="1.25" />
<rect x="88.20" y="477.30" width="7.80" height="54.40" fill="#676A73" stroke="#52545c" stroke-width="0.6"/>
<line x1="92.50" y1="477.00" x2="92.50" y2="468.70" stroke="#2a2a2a" stroke-width="1.05" />
<line x1="90.20" y1="468.70" x2="94.80" y2="468.70" stroke="#2a2a2a" stroke-width="1.25" />
<rect x="97.30" y="466.60" width="7.80" height="65.10" fill="#6C4A6C" stroke="#563b56" stroke-width="0.6"/>
<line x1="101.50" y1="466.30" x2="101.50" y2="435.20" stroke="#2a2a2a" stroke-width="1.05" />
<line x1="99.20" y1="435.20" x2="103.80" y2="435.20" stroke="#2a2a2a" stroke-width="1.25" />
<rect x="106.50" y="469.50" width="7.80" height="62.20" fill="#6C4A6C" stroke="#563b56" stroke-width="0.6"/>
<line x1="110.50" y1="469.20" x2="110.50" y2="444.60" stroke="#2a2a2a" stroke-width="1.05" />
<line x1="108.20" y1="444.60" x2="112.80" y2="444.60" stroke="#2a2a2a" stroke-width="1.25" />
<line x1="96.60" y1="532.30" x2="96.60" y2="535.30" stroke="#2e2e2e" stroke-width="1.0" />
<text x="99.80" y="541.90" font-size="8.7" text-anchor="end" fill="#1e1e1e" stroke="#1e1e1e" stroke-width="0.2" transform="rotate(-45 99.80 541.90)" textLength="9.65" lengthAdjust="spacingAndGlyphs">1:1</text>
<rect x="128.10" y="479.30" width="7.80" height="52.40" fill="#676A73" stroke="#52545c" stroke-width="0.6"/>
<line x1="132.50" y1="479.00" x2="132.50" y2="475.10" stroke="#2a2a2a" stroke-width="1.05" />
<line x1="130.20" y1="475.10" x2="134.80" y2="475.10" stroke="#2a2a2a" stroke-width="1.25" />
<rect x="137.20" y="476.70" width="7.80" height="55.00" fill="#676A73" stroke="#52545c" stroke-width="0.6"/>
<line x1="141.50" y1="476.40" x2="141.50" y2="471.00" stroke="#2a2a2a" stroke-width="1.05" />
<line x1="139.20" y1="471.00" x2="143.80" y2="471.00" stroke="#2a2a2a" stroke-width="1.25" />
<rect x="146.30" y="479.30" width="7.80" height="52.40" fill="#6C4A6C" stroke="#563b56" stroke-width="0.6"/>
<line x1="150.50" y1="479.00" x2="150.50" y2="469.40" stroke="#2a2a2a" stroke-width="1.05" />
<line x1="148.20" y1="469.40" x2="152.80" y2="469.40" stroke="#2a2a2a" stroke-width="1.25" />
<rect x="155.50" y="473.60" width="7.80" height="58.10" fill="#6C4A6C" stroke="#563b56" stroke-width="0.6"/>
<line x1="159.50" y1="473.30" x2="159.50" y2="461.40" stroke="#2a2a2a" stroke-width="1.05" />
<line x1="157.20" y1="461.40" x2="161.80" y2="461.40" stroke="#2a2a2a" stroke-width="1.25" />
<line x1="145.60" y1="532.30" x2="145.60" y2="535.30" stroke="#2e2e2e" stroke-width="1.0" />
<text x="148.80" y="541.90" font-size="8.7" text-anchor="end" fill="#1e1e1e" stroke="#1e1e1e" stroke-width="0.2" transform="rotate(-45 148.80 541.90)" textLength="9.65" lengthAdjust="spacingAndGlyphs">5:1</text>
<rect x="177.10" y="482.40" width="7.80" height="49.30" fill="#676A73" stroke="#52545c" stroke-width="0.6"/>
<line x1="181.50" y1="482.10" x2="181.50" y2="479.00" stroke="#2a2a2a" stroke-width="1.05" />
<line x1="179.20" y1="479.00" x2="183.80" y2="479.00" stroke="#2a2a2a" stroke-width="1.25" />
<rect x="186.20" y="474.20" width="7.80" height="57.50" fill="#676A73" stroke="#52545c" stroke-width="0.6"/>
<line x1="190.50" y1="473.90" x2="190.50" y2="462.00" stroke="#2a2a2a" stroke-width="1.05" />
<line x1="188.20" y1="462.00" x2="192.80" y2="462.00" stroke="#2a2a2a" stroke-width="1.25" />
<rect x="195.30" y="478.50" width="7.80" height="53.20" fill="#6C4A6C" stroke="#563b56" stroke-width="0.6"/>
<line x1="199.50" y1="478.20" x2="199.50" y2="468.90" stroke="#2a2a2a" stroke-width="1.05" />
<line x1="197.20" y1="468.90" x2="201.80" y2="468.90" stroke="#2a2a2a" stroke-width="1.25" />
<rect x="204.50" y="473.30" width="7.80" height="58.40" fill="#6C4A6C" stroke="#563b56" stroke-width="0.6"/>
<line x1="208.50" y1="473.00" x2="208.50" y2="462.70" stroke="#2a2a2a" stroke-width="1.05" />
<line x1="206.20" y1="462.70" x2="210.80" y2="462.70" stroke="#2a2a2a" stroke-width="1.25" />
<line x1="194.60" y1="532.30" x2="194.60" y2="535.30" stroke="#2e2e2e" stroke-width="1.0" />
<text x="197.80" y="541.90" font-size="8.7" text-anchor="end" fill="#1e1e1e" stroke="#1e1e1e" stroke-width="0.2" transform="rotate(-45 197.80 541.90)" textLength="13.67" lengthAdjust="spacingAndGlyphs">10:1</text>
<line x1="282.55" y1="415.50" x2="282.55" y2="532.40" stroke="#1e1e1e" stroke-width="1.25" />
<line x1="279.15" y1="531.80" x2="282.55" y2="531.80" stroke="#2e2e2e" stroke-width="1.0" />
<text x="276.20" y="534.84" font-size="9.2" text-anchor="end" fill="#1e1e1e" stroke="#1e1e1e" stroke-width="0.2" textLength="16.06" lengthAdjust="spacingAndGlyphs">0.00</text>
<line x1="279.15" y1="509.24" x2="282.55" y2="509.24" stroke="#2e2e2e" stroke-width="1.0" />
<text x="276.20" y="512.28" font-size="9.2" text-anchor="end" fill="#1e1e1e" stroke="#1e1e1e" stroke-width="0.2" textLength="16.06" lengthAdjust="spacingAndGlyphs">0.05</text>
<line x1="279.15" y1="486.68" x2="282.55" y2="486.68" stroke="#2e2e2e" stroke-width="1.0" />
<text x="276.20" y="489.72" font-size="9.2" text-anchor="end" fill="#1e1e1e" stroke="#1e1e1e" stroke-width="0.2" textLength="16.06" lengthAdjust="spacingAndGlyphs">0.10</text>
<line x1="279.15" y1="464.12" x2="282.55" y2="464.12" stroke="#2e2e2e" stroke-width="1.0" />
<text x="276.20" y="467.16" font-size="9.2" text-anchor="end" fill="#1e1e1e" stroke="#1e1e1e" stroke-width="0.2" textLength="16.06" lengthAdjust="spacingAndGlyphs">0.15</text>
<line x1="279.15" y1="441.56" x2="282.55" y2="441.56" stroke="#2e2e2e" stroke-width="1.0" />
<text x="276.20" y="444.60" font-size="9.2" text-anchor="end" fill="#1e1e1e" stroke="#1e1e1e" stroke-width="0.2" textLength="16.06" lengthAdjust="spacingAndGlyphs">0.20</text>
<line x1="279.15" y1="419.00" x2="282.55" y2="419.00" stroke="#2e2e2e" stroke-width="1.0" />
<text x="276.20" y="422.04" font-size="9.2" text-anchor="end" fill="#1e1e1e" stroke="#1e1e1e" stroke-width="0.2" textLength="16.06" lengthAdjust="spacingAndGlyphs">0.25</text>
<text x="253.00" y="474.00" font-size="10.6" text-anchor="middle" fill="#1e1e1e" stroke="#1e1e1e" stroke-width="0.2" transform="rotate(-90 253.00 474.00)" textLength="95.12" lengthAdjust="spacingAndGlyphs">Max absorbance (OD)</text>
<line x1="303.45" y1="417.20" x2="303.45" y2="531.80" stroke="#222" stroke-width="1.25" stroke-dasharray="4 1.95"/>
<rect x="287.65" y="438.30" width="8.10" height="93.50" fill="#A03542" stroke="#802a34" stroke-width="0.6"/>
<line x1="291.50" y1="438.00" x2="291.50" y2="432.50" stroke="#2a2a2a" stroke-width="1.05" />
<line x1="289.00" y1="432.50" x2="294.00" y2="432.50" stroke="#2a2a2a" stroke-width="1.25" />
<line x1="291.00" y1="532.40" x2="291.00" y2="535.40" stroke="#2e2e2e" stroke-width="1.0" />
<text x="294.10" y="541.50" font-size="8.7" text-anchor="end" fill="#1e1e1e" stroke="#1e1e1e" stroke-width="0.2" transform="rotate(-45 294.10 541.50)" textLength="39.39" lengthAdjust="spacingAndGlyphs">Buffer only</text>
<rect x="310.55" y="439.40" width="7.70" height="92.40" fill="#676A73" stroke="#52545c" stroke-width="0.6"/>
<line x1="314.50" y1="439.10" x2="314.50" y2="433.10" stroke="#2a2a2a" stroke-width="1.05" />
<line x1="312.20" y1="433.10" x2="316.80" y2="433.10" stroke="#2a2a2a" stroke-width="1.25" />
<rect x="319.65" y="438.60" width="7.70" height="93.20" fill="#676A73" stroke="#52545c" stroke-width="0.6"/>
<line x1="323.50" y1="438.30" x2="323.50" y2="430.50" stroke="#2a2a2a" stroke-width="1.05" />
<line x1="321.20" y1="430.50" x2="325.80" y2="430.50" stroke="#2a2a2a" stroke-width="1.25" />
<rect x="328.75" y="453.40" width="7.70" height="78.40" fill="#6C4A6C" stroke="#563b56" stroke-width="0.6"/>
<line x1="332.50" y1="453.10" x2="332.50" y2="435.70" stroke="#2a2a2a" stroke-width="1.05" />
<line x1="330.20" y1="435.70" x2="334.80" y2="435.70" stroke="#2a2a2a" stroke-width="1.25" />
<rect x="337.95" y="453.40" width="7.70" height="78.40" fill="#6C4A6C" stroke="#563b56" stroke-width="0.6"/>
<line x1="341.50" y1="453.10" x2="341.50" y2="437.30" stroke="#2a2a2a" stroke-width="1.05" />
<line x1="339.20" y1="437.30" x2="343.80" y2="437.30" stroke="#2a2a2a" stroke-width="1.25" />
<line x1="328.00" y1="532.40" x2="328.00" y2="535.40" stroke="#2e2e2e" stroke-width="1.0" />
<text x="331.20" y="542.00" font-size="8.7" text-anchor="end" fill="#1e1e1e" stroke="#1e1e1e" stroke-width="0.2" transform="rotate(-45 331.20 542.00)" textLength="9.65" lengthAdjust="spacingAndGlyphs">1:1</text>
<rect x="361.15" y="441.30" width="7.70" height="90.50" fill="#676A73" stroke="#52545c" stroke-width="0.6"/>
<line x1="365.50" y1="441.00" x2="365.50" y2="435.00" stroke="#2a2a2a" stroke-width="1.05" />
<line x1="363.20" y1="435.00" x2="367.80" y2="435.00" stroke="#2a2a2a" stroke-width="1.25" />
<rect x="370.25" y="432.90" width="7.70" height="98.90" fill="#676A73" stroke="#52545c" stroke-width="0.6"/>
<line x1="374.50" y1="432.60" x2="374.50" y2="428.80" stroke="#2a2a2a" stroke-width="1.05" />
<line x1="372.20" y1="428.80" x2="376.80" y2="428.80" stroke="#2a2a2a" stroke-width="1.25" />
<rect x="379.35" y="451.30" width="7.70" height="80.50" fill="#6C4A6C" stroke="#563b56" stroke-width="0.6"/>
<line x1="383.50" y1="451.00" x2="383.50" y2="433.60" stroke="#2a2a2a" stroke-width="1.05" />
<line x1="381.20" y1="433.60" x2="385.80" y2="433.60" stroke="#2a2a2a" stroke-width="1.25" />
<rect x="388.55" y="450.50" width="7.70" height="81.30" fill="#6C4A6C" stroke="#563b56" stroke-width="0.6"/>
<line x1="392.50" y1="450.20" x2="392.50" y2="432.60" stroke="#2a2a2a" stroke-width="1.05" />
<line x1="390.20" y1="432.60" x2="394.80" y2="432.60" stroke="#2a2a2a" stroke-width="1.25" />
<line x1="378.60" y1="532.40" x2="378.60" y2="535.40" stroke="#2e2e2e" stroke-width="1.0" />
<text x="381.80" y="542.00" font-size="8.7" text-anchor="end" fill="#1e1e1e" stroke="#1e1e1e" stroke-width="0.2" transform="rotate(-45 381.80 542.00)" textLength="9.65" lengthAdjust="spacingAndGlyphs">5:1</text>
<rect x="411.75" y="442.80" width="7.70" height="89.00" fill="#676A73" stroke="#52545c" stroke-width="0.6"/>
<line x1="415.50" y1="442.50" x2="415.50" y2="438.60" stroke="#2a2a2a" stroke-width="1.05" />
<line x1="413.20" y1="438.60" x2="417.80" y2="438.60" stroke="#2a2a2a" stroke-width="1.25" />
<rect x="420.85" y="439.60" width="7.70" height="92.20" fill="#676A73" stroke="#52545c" stroke-width="0.6"/>
<line x1="424.50" y1="439.30" x2="424.50" y2="434.80" stroke="#2a2a2a" stroke-width="1.05" />
<line x1="422.20" y1="434.80" x2="426.80" y2="434.80" stroke="#2a2a2a" stroke-width="1.25" />
<rect x="429.95" y="451.30" width="7.70" height="80.50" fill="#6C4A6C" stroke="#563b56" stroke-width="0.6"/>
<line x1="433.50" y1="451.00" x2="433.50" y2="431.70" stroke="#2a2a2a" stroke-width="1.05" />
<line x1="431.20" y1="431.70" x2="435.80" y2="431.70" stroke="#2a2a2a" stroke-width="1.25" />
<rect x="439.15" y="450.30" width="7.70" height="81.50" fill="#6C4A6C" stroke="#563b56" stroke-width="0.6"/>
<line x1="443.50" y1="450.00" x2="443.50" y2="434.00" stroke="#2a2a2a" stroke-width="1.05" />
<line x1="441.20" y1="434.00" x2="445.80" y2="434.00" stroke="#2a2a2a" stroke-width="1.25" />
<line x1="429.20" y1="532.40" x2="429.20" y2="535.40" stroke="#2e2e2e" stroke-width="1.0" />
<text x="432.40" y="542.00" font-size="8.7" text-anchor="end" fill="#1e1e1e" stroke="#1e1e1e" stroke-width="0.2" transform="rotate(-45 432.40 542.00)" textLength="13.67" lengthAdjust="spacingAndGlyphs">10:1</text>
<rect x="454.60" y="416.40" width="14.40" height="5.30" fill="#A03542" stroke="#802a34" stroke-width="0.6"/>
<text x="471.90" y="421.60" font-size="8.0" text-anchor="start" fill="#1e1e1e" stroke="#1e1e1e" stroke-width="0.2" textLength="37.58" lengthAdjust="spacingAndGlyphs">Buffer only</text>
<rect x="454.60" y="428.60" width="14.40" height="5.30" fill="#676A73" stroke="#52545c" stroke-width="0.6"/>
<text x="471.90" y="433.80" font-size="8.0" text-anchor="start" fill="#1e1e1e" stroke="#1e1e1e" stroke-width="0.2" textLength="18.73" lengthAdjust="spacingAndGlyphs">P1 F5</text>
<rect x="454.60" y="440.80" width="14.40" height="5.30" fill="#676A73" stroke="#52545c" stroke-width="0.6"/>
<text x="471.90" y="446.00" font-size="8.0" text-anchor="start" fill="#1e1e1e" stroke="#1e1e1e" stroke-width="0.2" textLength="18.73" lengthAdjust="spacingAndGlyphs">P1 F5</text>
<rect x="454.60" y="453.00" width="14.40" height="5.30" fill="#6C4A6C" stroke="#563b56" stroke-width="0.6"/>
<text x="471.90" y="458.20" font-size="8.0" text-anchor="start" fill="#1e1e1e" stroke="#1e1e1e" stroke-width="0.2" textLength="20.05" lengthAdjust="spacingAndGlyphs">P1 G2</text>
<rect x="454.60" y="465.20" width="14.40" height="5.30" fill="#6C4A6C" stroke="#563b56" stroke-width="0.6"/>
<text x="471.90" y="470.40" font-size="8.0" text-anchor="start" fill="#1e1e1e" stroke="#1e1e1e" stroke-width="0.2" textLength="20.05" lengthAdjust="spacingAndGlyphs">P2 G2</text>
<line x1="52.40" y1="151.45" x2="217.00" y2="151.45" stroke="#1e1e1e" stroke-width="1.3"/>
<line x1="282.00" y1="151.30" x2="470.20" y2="151.30" stroke="#1e1e1e" stroke-width="1.3"/>
<line x1="52.00" y1="342.50" x2="217.10" y2="342.50" stroke="#1e1e1e" stroke-width="1.3"/>
<line x1="281.00" y1="342.30" x2="454.40" y2="342.30" stroke="#1e1e1e" stroke-width="1.3"/>
<line x1="52.50" y1="531.70" x2="217.00" y2="531.70" stroke="#1e1e1e" stroke-width="1.3"/>
<line x1="281.00" y1="531.80" x2="451.50" y2="531.80" stroke="#1e1e1e" stroke-width="1.3"/>
<rect x="0" y="0" width="520" height="1" fill="#000"/>
<rect x="0" y="0" width="1" height="581" fill="#000"/>
<rect x="518" y="0" width="2" height="581" fill="#505050"/>
<rect x="0" y="579" width="520" height="2" fill="#505050"/>
</svg>
</div>
</body></html>
